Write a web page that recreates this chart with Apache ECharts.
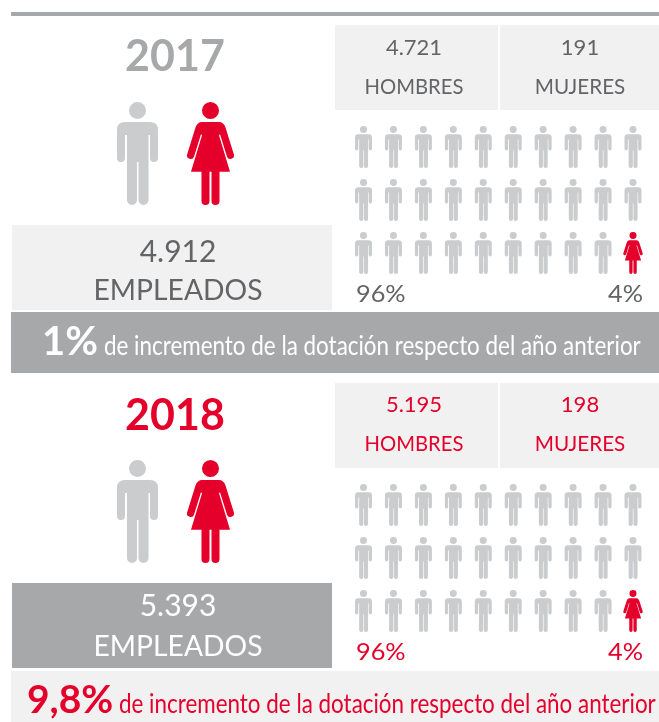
<!DOCTYPE html>
<html>
<head>
<meta charset="utf-8">
<script src="https://cdn.jsdelivr.net/npm/echarts@6/dist/echarts.min.js"></script>
<style>
  html, body { margin: 0; padding: 0; background: #fff; }
  #root { width: 659px; height: 722px; }
</style>
</head>
<body>
<div id="root"></div>
<script>
// values
const years = ['2017', '2018']
const totals = ['4.912', '5.393']
const hombres = ['4.721', '5.195']
const mujeres = ['191', '198']
const pctHombres = ['96%', '96%']
const pctMujeres = ['4%', '4%']
const incremento = ['1%', '9,8%']
const iconosHombres = [29, 29]
const iconosMujeres = [1, 1]
const empleadosLabel = 'EMPLEADOS'
const hombresLabel = 'HOMBRES'
const mujeresLabel = 'MUJERES'
const fraseLabel = 'de incremento de la dotación respecto del año anterior'

const RED = '#e4002b'
const GREY = '#a7a8aa'
const ICON = '#cbccce'
const TEXT = '#636466'
const PANEL = '#f1f1f2'
const FONT = 'Lato, "Noto Sans", sans-serif'

const manPath = 'path://M12 8.5a8.5 8.5 0 1 1 17 0a8.5 8.5 0 1 1 -17 0ZM8 20H33Q41 20 41 28V56a4 4 0 0 1 -8 0V33H31.5V98a5 5 0 0 1 -10 0V60H20V98a5 5 0 0 1 -10 0V33H8V56a4 4 0 0 1 -8 0V28Q0 20 8 20Z'
const womanPath = 'path://M15 8.5a8.5 8.5 0 1 1 17 0a8.5 8.5 0 1 1 -17 0ZM15 20H32Q36.5 20 38.5 25.5L46.8 52a3.6 3.6 0 0 1 -6.9 2.2L33 32L32 33L43 69.5H32.5V98.5a4 4 0 0 1 -8 0V69.5H22.5V98.5a4 4 0 0 1 -8 0V69.5H4L15 33L14 32L7.1 54.2a3.6 3.6 0 0 1 -6.9 -2.2L8.5 25.5Q10.5 20 15 20Z'

const chart = echarts.init(document.getElementById('root'), null, { renderer: 'canvas' })

function rect (x, y, w, h, fill) {
  return { type: 'rect', z: 0, shape: { x, y, width: w, height: h }, style: { fill } }
}

function label (text, x, y, size, fill, align, weight, scaleX) {
  return {
    type: 'text',
    z: 10,
    x,
    y,
    scaleX: scaleX || 1,
    style: {
      text,
      fill,
      font: (weight || 'normal') + ' ' + size + 'px ' + FONT,
      textAlign: align || 'center',
      textVerticalAlign: 'middle',
      align: align || 'center',
      verticalAlign: 'middle'
    }
  }
}

const graphics = [rect(11, 12, 648, 4, GREY)]
const grids = []
const xAxes = []
const yAxes = []
const series = []

function addIcons (left, top, width, height, xMax, yMax, data, path, size, color) {
  const idx = grids.length
  grids.push({ left, top, width, height })
  xAxes.push({ type: 'value', gridIndex: idx, min: 0, max: xMax, show: false })
  yAxes.push({ type: 'value', gridIndex: idx, min: 0, max: yMax, inverse: true, show: false })
  series.push({
    type: 'scatter',
    xAxisIndex: idx,
    yAxisIndex: idx,
    symbol: path,
    symbolSize: size,
    symbolKeepAspect: false,
    itemStyle: { color, opacity: 1 },
    silent: true,
    data
  })
}

years.forEach((year, i) => {
  const dy = i * 358
  const accent = i === 0 ? TEXT : RED

  // head panels
  graphics.push(rect(335, 25 + dy, 163, 85, PANEL))
  graphics.push(rect(500, 25 + dy, 159, 85, PANEL))
  graphics.push(label(hombres[i], 414, 48 + dy - i, 22, accent))
  graphics.push(label(hombresLabel, 414, 87 + dy - i, 22, accent, 'center', 'normal', 0.92))
  graphics.push(label(mujeres[i], 580, 48 + dy - i, 22, accent))
  graphics.push(label(mujeresLabel, 580, 87 + dy - i, 22, accent, 'center', 'normal', 0.94))

  // left column
  graphics.push(label(year, 175, 57 + dy + (i ? 1 : 0), 43, i === 0 ? GREY : RED, 'center', 'bold'))
  graphics.push(rect(12, 225 + dy, 320, 85, i === 0 ? PANEL : GREY))
  const panelText = i === 0 ? TEXT : '#fff'
  graphics.push(label(totals[i], 178, 252 + dy - i * 4, 30, panelText))
  graphics.push(label(empleadosLabel, 178, 291 + dy - i * 2, 29, panelText, 'center', 'normal', 0.975))

  // percentages
  graphics.push(label(pctHombres[i], 356, 295 + dy, 23, accent, 'left', 'normal', 1.1))
  graphics.push(label(pctMujeres[i], 643, 295 + dy, 23, accent, 'right', 'normal', 1.1))

  // bottom band
  if (i === 0) {
    graphics.push(rect(11, 312, 648, 61, GREY))
    graphics.push(label(incremento[i], 42, 342, 40, '#fff', 'left', 'bold'))
    graphics.push(label(fraseLabel, 104, 346, 27, '#fff', 'left', 'normal', 0.83))
  } else {
    graphics.push(rect(11, 671, 648, 51, PANEL))
    graphics.push(label(incremento[i], 27, 700, 39, RED, 'left', 'bold'))
    graphics.push(label(fraseLabel, 119, 704, 27, RED, 'left', 'normal', 0.83))
  }

  // big figures
  addIcons(137.5, 148.5 + dy, 73, 10, 1, 1, [[0, 0.5]], manPath, [41, 103], ICON)
  addIcons(137.5, 148.5 + dy, 73, 10, 1, 1, [[1, 0.5]], womanPath, [47, 103], RED)

  // 10 x 3 figures, men first, women fill the end
  const men = []
  const women = []
  for (let n = 0; n < iconosHombres[i] + iconosMujeres[i]; n++) {
    const cell = [n % 10, Math.floor(n / 10)]
    if (n < iconosHombres[i]) men.push(cell)
    else women.push(cell)
  }
  addIcons(363.5, 147 + dy, 269.5, 106, 9, 2, men, manPath, [17, 42], ICON)
  addIcons(363.5, 147 + dy, 269.5, 106, 9, 2, women, womanPath, [19.5, 42], RED)
})

chart.setOption({
  animation: false,
  backgroundColor: '#fff',
  tooltip: { show: false },
  graphic: { elements: graphics },
  grid: grids,
  xAxis: xAxes,
  yAxis: yAxes,
  series
})
</script>
</body>
</html>
